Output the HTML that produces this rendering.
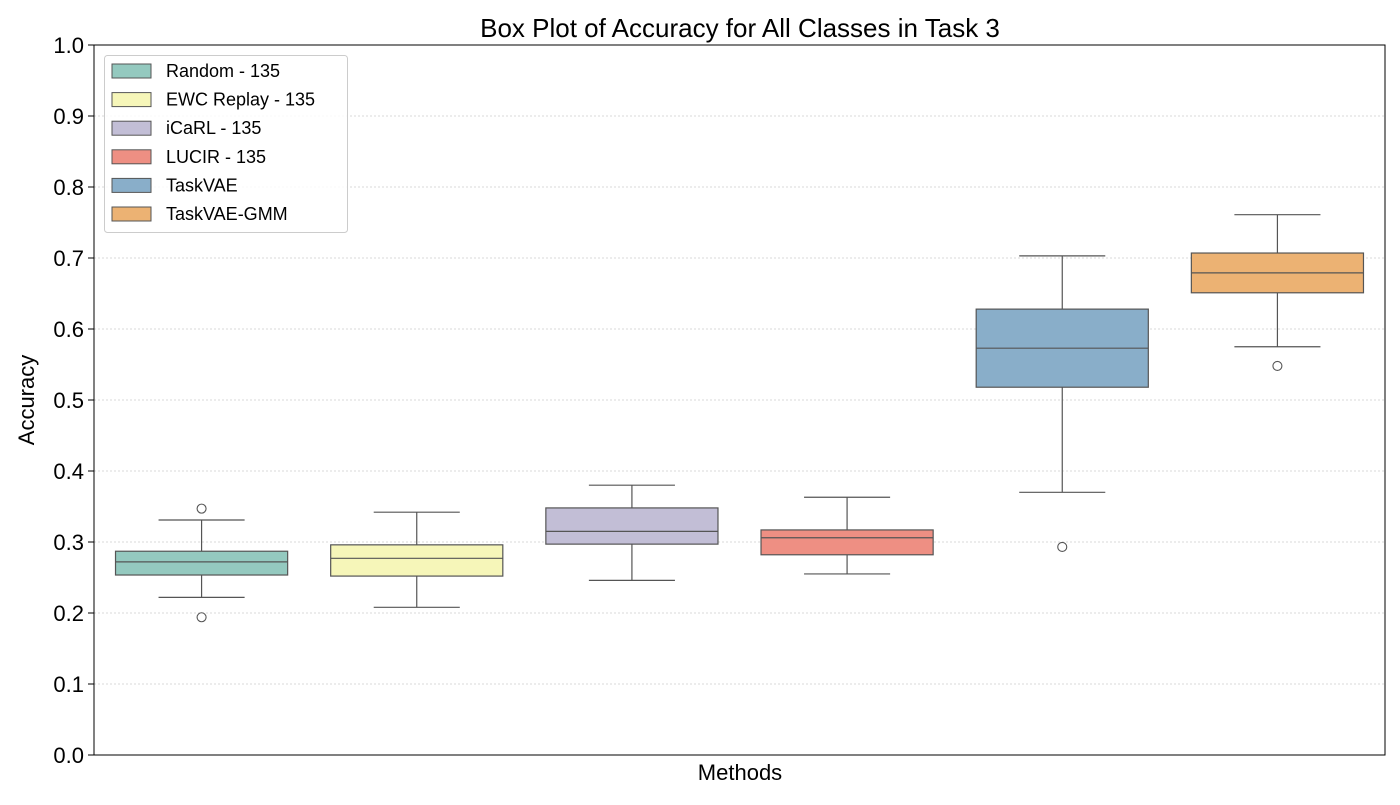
<!DOCTYPE html>
<html><head><meta charset="utf-8"><style>
body{margin:0;background:#fff;}
svg text{font-family:"Liberation Sans","DejaVu Sans",sans-serif;fill:#000;}
</style></head><body>
<svg id="chart" width="1400" height="800" xmlns="http://www.w3.org/2000/svg">
<rect width="1400" height="800" fill="#fff"/>
<g id="grid"></g>
<g id="boxes"></g>
<rect x="94" y="45" width="1291" height="710" fill="none" stroke="#000" stroke-width="1"/>
<g id="yticks"></g>
<text x="740" y="37" font-size="26" text-anchor="middle">Box Plot of Accuracy for All Classes in Task 3</text>
<text x="740" y="780" font-size="22" text-anchor="middle">Methods</text>
<text x="34" y="400" font-size="22" text-anchor="middle" transform="rotate(-90 34 400)">Accuracy</text>
<g id="legend"></g>
</svg>
<script>
const methods=["Random - 135","EWC Replay - 135","iCaRL - 135","LUCIR - 135","TaskVAE","TaskVAE-GMM"];
const colors=["#94c9bf","#f6f6b9","#c2bed6","#ee8f83","#89aec9","#ecb273"];
const whisLo=[0.222,0.208,0.246,0.255,0.370,0.575];
const q1=[0.2535,0.252,0.297,0.282,0.518,0.651];
const med=[0.272,0.277,0.315,0.306,0.573,0.679];
const q3=[0.287,0.296,0.348,0.317,0.628,0.707];
const whisHi=[0.331,0.342,0.380,0.363,0.703,0.761];
const outliers=[[0.347,0.194],[],[],[],[0.293],[0.548]];
const yTicks=[0,0.1,0.2,0.3,0.4,0.5,0.6,0.7,0.8,0.9,1.0];
const X0=94,X1=1385,Y0=755,Y1=45;
const y=v=>Y0-(v-0)/(1-0)*(Y0-Y1);
const band=(X1-X0)/methods.length;
const xc=i=>X0+band*(i+0.5);
const NS="http://www.w3.org/2000/svg";
function mk(tag,attrs,parent){const e=document.createElementNS(NS,tag);for(const k in attrs)e.setAttribute(k,attrs[k]);parent.appendChild(e);return e;}
const grid=document.getElementById('grid'),yt=document.getElementById('yticks');
yTicks.forEach(t=>{
  if(t>0&&t<1){const g=mk('line',{x1:X0,x2:X1,y1:y(t),y2:y(t),stroke:'#ccc','stroke-width':0.8,'stroke-dasharray':'2,2'},grid);
  
  }
  const tk=mk('line',{x1:X0-6,x2:X0,y1:y(t),y2:y(t),stroke:'#000'},yt);
  
  
  const lb=mk('text',{x:X0-10,y:y(t)+8,'font-size':22,'text-anchor':'end'},yt);
  lb.textContent=t.toFixed(1);
  
  
});
const bx=document.getElementById('boxes');const st='#555';
methods.forEach((m,i)=>{
  const g=mk('g',{},bx);
  
  
  const c=xc(i),w=band*0.8,cw=band*0.4;
  mk('line',{x1:c,x2:c,y1:y(whisLo[i]),y2:y(q1[i]),stroke:st,'stroke-width':1.2},g);
  mk('line',{x1:c,x2:c,y1:y(q3[i]),y2:y(whisHi[i]),stroke:st,'stroke-width':1.2},g);
  mk('line',{x1:c-cw/2,x2:c+cw/2,y1:y(whisLo[i]),y2:y(whisLo[i]),stroke:st,'stroke-width':1.2},g);
  mk('line',{x1:c-cw/2,x2:c+cw/2,y1:y(whisHi[i]),y2:y(whisHi[i]),stroke:st,'stroke-width':1.2},g);
  mk('rect',{x:c-w/2,y:y(q3[i]),width:w,height:y(q1[i])-y(q3[i]),fill:colors[i],stroke:st,'stroke-width':1.2},g);
  mk('line',{x1:c-w/2,x2:c+w/2,y1:y(med[i]),y2:y(med[i]),stroke:st,'stroke-width':1.2},g);
  outliers[i].forEach(o=>{const p=mk('circle',{cx:c,cy:y(o),r:4.5,fill:'none',stroke:st,'stroke-width':1.1},g);
    
    });
});
const lg=document.getElementById('legend');
mk('rect',{x:104.5,y:55.5,width:243,height:177,rx:3,fill:'#fff','fill-opacity':0.85,stroke:'#ccc'},lg);
methods.forEach((m,i)=>{
  const yy=71+i*28.6;
  const e=mk('g',{},lg);
  
  
  mk('rect',{x:112,y:yy-7,width:39,height:14,fill:colors[i],stroke:st,'stroke-width':1},e);
  const t=mk('text',{x:166,y:yy+6,'font-size':18},e);t.textContent=m;
});
</script>
</body></html>
